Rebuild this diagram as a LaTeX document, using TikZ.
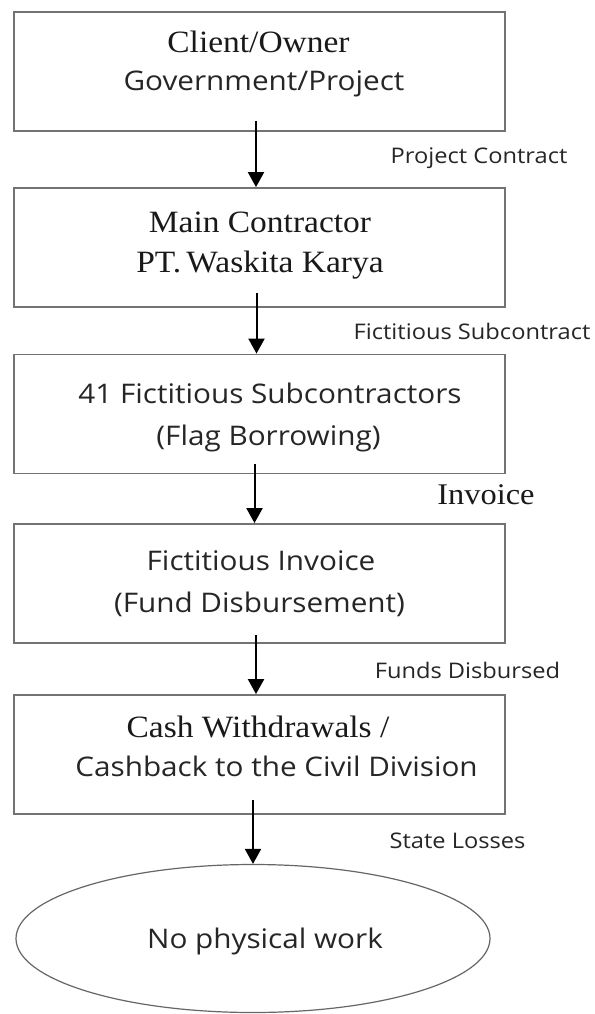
\documentclass[tikz,border=0pt]{standalone}
\usepackage{fontspec}
\setmainfont{Open Sans}[FakeStretch=1.1]
\newfontfamily\serifx{Liberation Serif}[FakeStretch=1.08]
\usetikzlibrary{arrows.meta,shapes.geometric}
\begin{document}
\begin{tikzpicture}[x=1pt,y=-1pt,
  box/.style={draw=black!55,line width=1.8pt,minimum width=491pt,minimum height=119pt,inner sep=0pt},
  sanstxt/.style={font=\fontsize{27}{32}\selectfont,text=black!85,anchor=base,inner sep=0pt},
  seriftxt/.style={font=\serifx\fontsize{31}{36}\selectfont,text=black!90,anchor=base,inner sep=0pt},
  lab/.style={font=\fontsize{21.5}{26}\selectfont,text=black!85,anchor=base,inner sep=0pt},
  serlab/.style={font=\serifx\fontsize{30}{34}\selectfont,text=black!90,anchor=base,inner sep=0pt},
  flow/.style={-{Triangle[width=16pt,length=15pt]},line width=2pt,black},
  oval/.style={draw=black!60,line width=1.2pt,ellipse,minimum width=474pt,minimum height=148pt,inner sep=0pt}
]
\useasboundingbox (0,0) rectangle (594,1014);
\fill[white] (0,0) rectangle (594,1014);

% boxes
\node[box] (b1) at (259.5,71.5) {};
\node[box] (b2) at (259.5,247.5) {};
\node[box] (b3) at (259.5,414) {};
\node[box] (b4) at (259.5,583.5) {};
\node[box] (b5) at (259.5,754.5) {};
\node[oval] (ell) at (253,938.5) {};

% box texts
\node[seriftxt] (t1a) at (258.5,53) {Client/Owner};
\node[sanstxt]  (t1b) at (264,91) {Government/Project};
\node[seriftxt] (t2a) at (260,232) {Main Contractor};
\node[seriftxt] (t2b) at (260,272) {PT.\,Waskita Karya};
\node[sanstxt]  (t3a) at (270,403) {41 Fictitious Subcontractors};
\node[sanstxt]  (t3b) at (268.5,445) {(Flag Borrowing)};
\node[sanstxt]  (t4a) at (261,570) {Fictitious Invoice};
\node[sanstxt]  (t4b) at (259.5,612) {(Fund Disbursement)};
\node[seriftxt] (t5a) at (258,737) {Cash Withdrawals /};
\node[sanstxt]  (t5b) at (276.5,776) {Cashback to the Civil Division};
\node[sanstxt]  (t6)  at (265,948) {No physical work};

% connector labels
\node[lab]    (l1) at (479,163) {Project Contract};
\node[lab]    (l2) at (472,339) {Fictitious Subcontract};
\node[serlab] (l3) at (486,504) {Invoice};
\node[lab]    (l4) at (467.5,678) {Funds Disbursed};
\node[lab]    (l5) at (457.5,848) {State Losses};

% connectors
\draw[flow] ([xshift=-3.5pt,yshift=11pt]b1.south) -- ([xshift=-3.5pt]b2.north);
\draw[flow] ([xshift=-3pt,yshift=15pt]b2.south) -- ([xshift=-3pt]b3.north);
\draw[flow] ([xshift=-5pt,yshift=10pt]b3.south) -- ([xshift=-5pt]b4.north);
\draw[flow] ([xshift=-3.5pt,yshift=9pt]b4.south) -- ([xshift=-3.5pt]b5.north);
\draw[flow] ([xshift=-6.5pt,yshift=15pt]b5.south) -- (ell.north);
\end{tikzpicture}
\end{document}
